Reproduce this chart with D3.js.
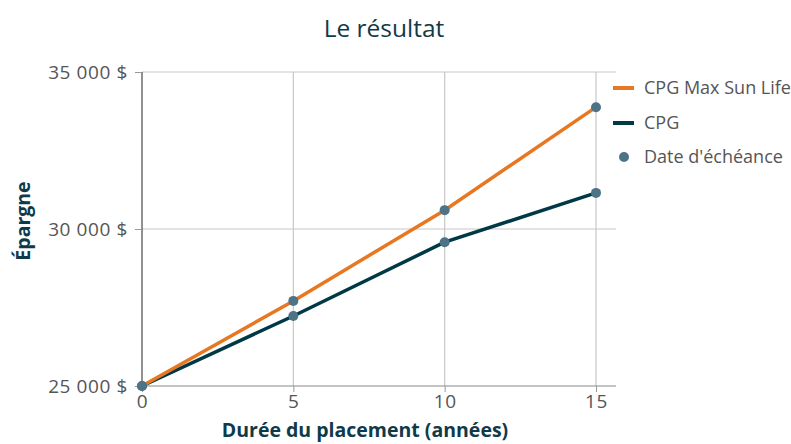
<!DOCTYPE html>
<html><head><meta charset="utf-8">
<script src="https://cdn.jsdelivr.net/npm/d3@7"></script>
<style>body{margin:0;background:#fff;}svg{display:block;font-family:"Open Sans",sans-serif;}</style>
</head><body><svg id="c" width="791" height="444"></svg>
<script>
const years = [0, 5, 10, 15];
const maxSunLife = [25000, 27710, 30600, 33880];
const cpg = [25000, 27230, 29580, 31150];
const yTicks = [25000, 30000, 35000];
const xTicks = [0, 5, 10, 15];
const seriesNames = ["CPG Max Sun Life", "CPG", "Date d'échéance"];

const FONT = "'Open Sans',sans-serif";
const svg = d3.select("#c");
const x = d3.scaleLinear().domain([0, 15]).range([142, 596]);
const y = d3.scaleLinear().domain([25000, 35000]).range([386, 72]);
const fmt = v => d3.format(",")(v).replace(/,/g, "\u00a0") + "\u00a0$";

// grid
svg.append("g").selectAll("line").data(xTicks.slice(1)).join("line")
  .attr("x1", d => x(d)).attr("x2", d => x(d)).attr("y1", 72).attr("y2", 386)
  .attr("stroke", "#c8c8c8").attr("stroke-width", 1.2);
svg.append("g").selectAll("line").data(yTicks.slice(1)).join("line")
  .attr("x1", 142).attr("x2", 616).attr("y1", d => y(d)).attr("y2", d => y(d))
  .attr("stroke", "#c8c8c8").attr("stroke-width", 1.2);

// y axis
const ya = svg.append("g").attr("transform", "translate(142,0)")
  .call(d3.axisLeft(y).tickValues(yTicks).tickFormat(fmt).tickSize(7).tickPadding(7));
ya.select(".domain").attr("stroke", "#222").attr("d", "M0,72V386");
ya.selectAll(".tick line").attr("stroke", "#999");
ya.selectAll("text").attr("fill", "#555").attr("font-size", 19).attr("letter-spacing", 0.6).attr("font-family", FONT);

// x axis
const xa = svg.append("g").attr("transform", "translate(0,386)")
  .call(d3.axisBottom(x).tickValues(xTicks).tickSize(6).tickPadding(3));
xa.select(".domain").attr("stroke", "#888").attr("d", "M142,0H616");
xa.selectAll(".tick line").attr("stroke", "#999");
xa.selectAll("text").attr("fill", "#555").attr("font-size", 19).attr("letter-spacing", 0.6).attr("font-family", FONT);

// lines
const line = d3.line().x((d, i) => x(years[i])).y(d => y(d));
svg.append("path").datum(cpg).attr("d", line).attr("fill", "none")
  .attr("stroke", "#003946").attr("stroke-width", 3.5);
svg.append("path").datum(maxSunLife).attr("d", line).attr("fill", "none")
  .attr("stroke", "#e87722").attr("stroke-width", 3.5);

// dots
const pts = [];
years.forEach((yr, i) => { pts.push([yr, maxSunLife[i]]); pts.push([yr, cpg[i]]); });
svg.append("g").selectAll("circle").data(pts).join("circle")
  .attr("cx", d => x(d[0])).attr("cy", d => y(d[1])).attr("r", 5)
  .attr("fill", "#4d7387");

// titles
svg.append("text").attr("x", 384).attr("y", 37).attr("text-anchor", "middle")
  .attr("font-size", 24.5).attr("fill", "#0f3a4a").text("Le résultat");
svg.append("text").attr("transform", "translate(30,221) rotate(-90)").attr("text-anchor", "middle")
  .attr("font-size", 19.5).attr("font-weight", "bold").attr("fill", "#0f3a4a").text("Épargne");
svg.append("text").attr("x", 365).attr("y", 437).attr("text-anchor", "middle")
  .attr("font-size", 19.5).attr("font-weight", "bold").attr("fill", "#0f3a4a").text("Durée du placement (années)");

// legend
const lg = svg.append("g");
const legendColors = ["#e87722", "#003946", "#4d7387"];
const ly = [88, 123, 157];
seriesNames.forEach((n, i) => {
  if (i < 2) lg.append("line").attr("x1", 613).attr("x2", 634).attr("y1", ly[i]).attr("y2", ly[i])
    .attr("stroke", legendColors[i]).attr("stroke-width", 4);
  else lg.append("circle").attr("cx", 624).attr("cy", ly[i]).attr("r", 5).attr("fill", legendColors[i]);
  lg.append("text").attr("x", 644).attr("y", ly[i]).attr("dy", "0.35em").attr("font-size", 18)
    .attr("fill", "#555").text(n);
});
</script></body></html>
